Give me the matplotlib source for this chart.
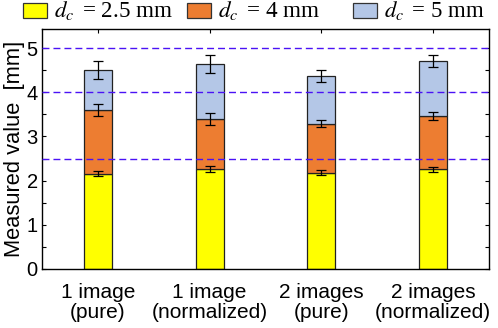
import matplotlib
matplotlib.use("Agg")
import matplotlib.pyplot as plt
from matplotlib.patches import Rectangle
import numpy as np

categories = ["1 image\n(pure)", "1 image\n(normalized)", "2 images\n(pure)", "2 images\n(normalized)"]
series_labels = [r"$d_c\,$ = 2.5 mm", r"$d_c\,$ = 4 mm", r"$d_c\,$ = 5 mm"]
# cumulative measured values (top of each stacked segment)
val_25 = [2.15, 2.26, 2.18, 2.26]
val_4 = [3.60, 3.385, 3.29, 3.46]
val_5 = [4.51, 4.64, 4.37, 4.71]
err_25 = [0.057, 0.06, 0.057, 0.057]
err_4 = [0.13, 0.136, 0.087, 0.083]
err_5 = [0.2, 0.21, 0.13, 0.13]
ref_lines = [2.5, 4.0, 5.0]

colors = ["#FFFF00", "#ED7D31", "#B4C7E7"]

plt.rcParams['font.family'] = ['Liberation Sans', 'DejaVu Sans']
plt.rcParams['mathtext.fontset'] = 'stix'

W, H = 498, 328
fig = plt.figure(figsize=(W / 100, H / 100), dpi=100)
ax = fig.add_axes([42/W, 59/H, (489-42)/W, (269-29)/H])

x = np.arange(1, len(categories) + 1)
w = 0.25
tops = [val_25, val_4, val_5]
errs = [err_25, err_4, err_5]
bottom = np.zeros(len(x))
for i in range(3):
    t = np.array(tops[i])
    ax.bar(x, t - bottom, w, bottom=bottom, color=colors[i], edgecolor="#222222",
           linewidth=0.9, zorder=2, label=series_labels[i])
    bottom = t
for i in range(3):
    ax.errorbar(x, tops[i], yerr=errs[i], fmt="none", ecolor="black", elinewidth=0.9,
                capsize=3.4, capthick=0.9, zorder=4)

for r in ref_lines:
    ax.axhline(r, color="#4a12f5", linestyle=(0, (5, 2.9)), linewidth=1.0, zorder=3)

ax.set_xlim(0.5, 4.5)
ax.set_ylim(0, 5.43)
ax.set_xticks(x)
ax.set_xticklabels(categories, fontsize=15, linespacing=1.08)
yt = np.arange(0, 5.01, 0.5)
ax.set_yticks(yt)
ax.set_yticklabels([str(int(v)) if v == int(v) else "" for v in yt], fontsize=14.5)
ax.tick_params(direction="in", length=3, top=True, right=True, width=0.8)
ax.tick_params(axis="x", pad=10)
ax.tick_params(axis="y", pad=3)
ylab = ax.set_ylabel("Measured value  [mm]", fontsize=15, labelpad=1)
for s in ax.spines.values():
    s.set_linewidth(1.0)

# legend drawn above the axes (fixed-width columns)
legend_x = [23, 187, 353]
legend_text_w = [119, 102, 101]
leg_texts = []
for i in range(3):
    x0 = legend_x[i]
    fig.patches.append(Rectangle((x0 / W, 1 - 17.5 / H), 24 / W, 14.5 / H,
                                 transform=fig.transFigure, facecolor=colors[i],
                                 edgecolor="#333333", linewidth=0.9))
    leg_texts.append(fig.text((x0 + 31) / W, 1 - 17 / H, series_labels[i], ha="left",
                              va="baseline", fontsize=16, family="Liberation Serif"))

# fit text sizes to the reference's measured extents
renderer = fig.canvas.get_renderer()
def fit(txt, target, dim=0):
    for _ in range(3):
        bb = txt.get_window_extent(renderer)
        cur = bb.width if dim == 0 else bb.height
        if cur > 0:
            txt.set_fontsize(txt.get_fontsize() * target / cur)

for t, tw in zip(leg_texts, legend_text_w):
    fit(t, tw)
fig.canvas.draw()
lab2 = ax.get_xticklabels()[1]
fit(lab2, 116)
fs = lab2.get_fontsize()
for lab in ax.get_xticklabels():
    lab.set_fontsize(fs)
fit(ylab, 216, dim=1)

fig.savefig("out.png", dpi=100)
